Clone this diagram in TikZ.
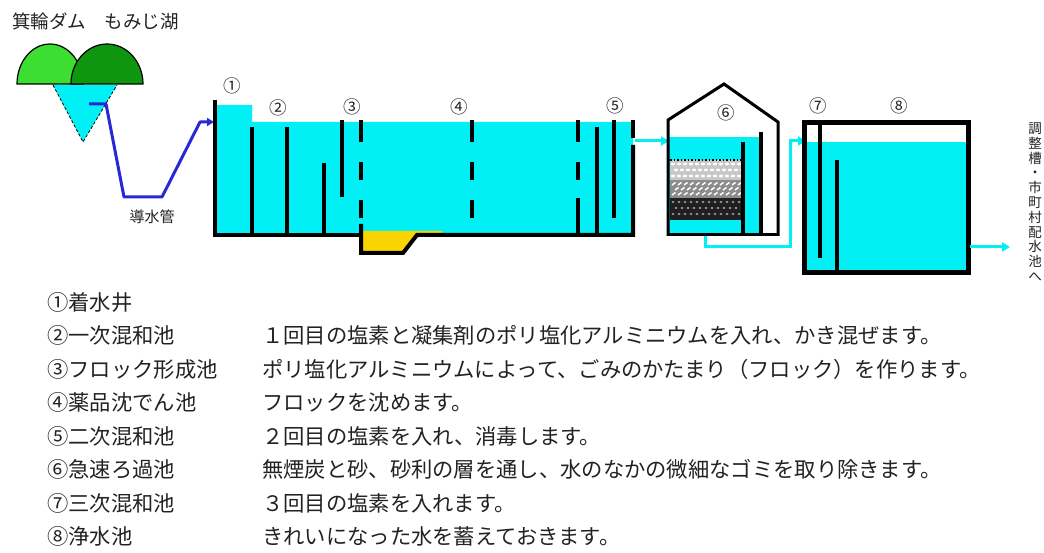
\documentclass[tikz,border=0pt]{standalone}
\usepackage{fontspec}
\setmainfont{Noto Sans CJK JP}
\usetikzlibrary{arrows.meta}

\definecolor{water}{RGB}{0,240,245}
\definecolor{pipeblue}{RGB}{40,40,215}
\definecolor{lightgreen}{RGB}{60,222,50}
\definecolor{darkgreen}{RGB}{14,150,14}
\definecolor{sludge}{RGB}{250,212,0}
\definecolor{ink}{RGB}{34,34,34}

\begin{document}
\begin{tikzpicture}[x=1pt,y=-1pt,
  wall/.style={line width=4pt,black},
  thinwall/.style={line width=3pt,black},
  pipe/.style={line width=3pt,pipeblue,-{Triangle[width=8pt,length=7pt]}},
  flow/.style={line width=3pt,water,-{Triangle[width=9pt,length=8pt]}},
  flowline/.style={line width=3pt,water},
  numlabel/.style={font=\fontsize{17.5}{19}\selectfont,text=ink,inner sep=0pt},
  listtext/.style={font=\fontsize{21.3}{23}\selectfont,text=ink,anchor=west,inner sep=0pt}]
\useasboundingbox (0,0) rectangle (1044,553);

% ---- title and dam ----
\node[anchor=west,inner sep=0pt,font=\fontsize{18.5}{20}\selectfont,text=ink] (title) at (12,21) {箕輪ダム　もみじ湖};

\fill[water] (53,85) -- (117,85) -- (83,142) -- cycle;
\draw[densely dashed,line width=0.8pt] (53,85) -- (83,142) -- (117,85);
\filldraw[fill=lightgreen,draw=black,line width=1.2pt]
  (17,84) arc[start angle=180,end angle=360,x radius=33,y radius=40] -- cycle;
\filldraw[fill=darkgreen,draw=black,line width=1.2pt]
  (71,84) arc[start angle=180,end angle=360,x radius=36,y radius=40] -- cycle;

% ---- conduit ----
\coordinate (intake) at (89,104);
\coordinate (inlet) at (214,122);
\draw[pipe,line join=round] (intake) -- (106,104) -- (124,197) -- (162,197) -- (200,122) -- (inlet);
\node[inner sep=0pt,font=\fontsize{15}{16}\selectfont,text=ink] (conduit) at (152,217) {導水管};

% ---- first basin (stages 1 to 5) ----
\fill[water] (215,105) -- (252,105) -- (252,122) -- (633,122) -- (633,235) -- (215,235) -- cycle;
\fill[sludge] (361,231) -- (442,231) -- (442,235) -- (417,235) -- (403,253) -- (361,253) -- cycle;

\draw[wall,line join=miter] (215,100) -- (215,235) -- (361,235);
\draw[wall,line join=miter] (361,224) -- (361,253) -- (403,253) -- (417,235) -- (633,235) -- (633,145);
\draw[wall] (633,120) -- (633,138);
\draw[wall] (252,127) -- (252,235);
\draw[wall] (287,127) -- (287,235);
\draw[wall] (324,163) -- (324,235);
\draw[wall] (342,120) -- (342,197);
\foreach \x in {361,472,578}{
  \draw[wall] (\x,120) -- (\x,142);
  \draw[wall] (\x,162) -- (\x,180);
}
\draw[wall] (361,200) -- (361,218);
\draw[wall] (472,200) -- (472,218);
\draw[wall] (578,198) -- (578,235);
\draw[wall] (597,127) -- (597,235);
\draw[wall] (614,120) -- (614,218);

% ---- rapid filter ----
\coordinate (outA) at (635,141);
\coordinate (inF) at (669,141);
\fill[water] (668,137) rectangle (761,235);
\draw[flow] (outA) -- (inF);

% filter media: anthracite, sand, gravel
\fill[black!22] (670,160) rectangle (743,180);
\foreach \i in {0,...,11}{\foreach \j in {0,1,2}{
  \fill[white] ({673+\i*6+mod(\j,2)*3},{164+\j*6}) ellipse[x radius=2.2,y radius=1.4];}}
\fill[black!45] (670,180) rectangle (743,198);
\foreach \i in {0,...,11}{\foreach \j in {0,1,2}{
  \draw[white,line width=1.5pt] ({672+\i*6+mod(\j,2)*3},{185+\j*5}) -- ++(3.5,-2.5);}}
\fill[black!88] (670,198) rectangle (743,220);
\foreach \i in {0,...,11}{\foreach \j in {0,1,2}{
  \fill[black!40] ({673+\i*6+mod(\j,2)*3},{202+\j*6}) ellipse[x radius=1.6,y radius=1.1];}}
\draw[black,line width=1.5pt,dotted] (670,160) -- (743,160);

\draw[wall] (743,142) -- (743,235);
\draw[wall] (761,132) -- (761,235);
\draw[thinwall,line join=miter] (668,235) -- (778,235);
\draw[thinwall,line join=miter] (668,236) -- (668,120) -- (724,84) -- (778,122) -- (778,236);

\coordinate (outF) at (705,236);
\coordinate (inB) at (806,141);
\draw[flowline] (outF) -- (705,247) -- (790,247) -- (790,141);
\draw[flow] (788.5,141) -- (inB);

% ---- third mixing basin and clear-water reservoir ----
\fill[water] (804,142) rectangle (968,273);
\draw[line width=5pt,black] (804,123) rectangle (968,273);
\draw[wall] (820,123) -- (820,258);
\draw[wall] (837,160) -- (837,273);
\coordinate (outB) at (970,247);
\coordinate (dest) at (1010,247);
\draw[flow] (outB) -- (dest);

\node[inner sep=0pt,align=center,font=\fontsize{13.5}{14.8}\selectfont,text=ink] (desttext) at (1035,202)
  {調\\整\\槽\\・\\市\\町\\村\\配\\水\\池\\へ};

% ---- stage numbers ----
\node[numlabel] (n1) at (232,86) {①};
\node[numlabel] (n2) at (278,108) {②};
\node[numlabel] (n3) at (352,107) {③};
\node[numlabel] (n4) at (459,107) {④};
\node[numlabel] (n5) at (615,106) {⑤};
\node[numlabel] (n6) at (726,113) {⑥};
\node[numlabel] (n7) at (818,106) {⑦};
\node[numlabel] (n8) at (899,106) {⑧};

% ---- legend ----
\node[listtext] (l1) at (47,302) {①着水井};
\node[listtext] (l2) at (47,335.5) {②一次混和池};
\node[listtext] (l3) at (47,369) {③フロック形成池};
\node[listtext] (l4) at (47,402.5) {④薬品沈でん池};
\node[listtext] (l5) at (47,436) {⑤二次混和池};
\node[listtext] (l6) at (47,469.5) {⑥急速ろ過池};
\node[listtext] (l7) at (47,503) {⑦三次混和池};
\node[listtext] (l8) at (47,536.5) {⑧浄水池};

\node[listtext] (d2) at (262,335.5) {１回目の塩素と凝集剤のポリ塩化アルミニウムを入れ、かき混ぜます。};
\node[listtext] (d3) at (262,369) {ポリ塩化アルミニウムによって、ごみのかたまり（フロック）を作ります。};
\node[listtext] (d4) at (262,402.5) {フロックを沈めます。};
\node[listtext] (d5) at (262,436) {２回目の塩素を入れ、消毒します。};
\node[listtext] (d6) at (262,469.5) {無煙炭と砂、砂利の層を通し、水のなかの微細なゴミを取り除きます。};
\node[listtext] (d7) at (262,503) {３回目の塩素を入れます。};
\node[listtext] (d8) at (262,536.5) {きれいになった水を蓄えておきます。};
\end{tikzpicture}
\end{document}
